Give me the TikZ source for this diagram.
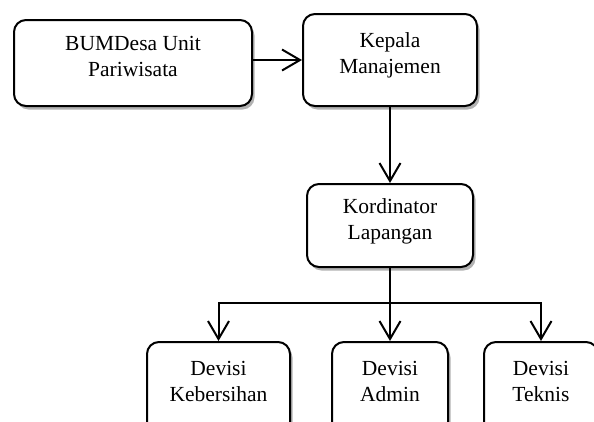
\documentclass[tikz,border=0pt]{standalone}
\usepackage{fontspec}
\setmainfont{Liberation Serif}
\usetikzlibrary{arrows.meta,shadows}

\begin{document}
\begin{tikzpicture}[x=1pt,y=-1pt,
    box/.style={draw,line width=2pt,rounded corners=12pt,fill=white,align=center,
      font=\fontsize{21.5}{26}\selectfont,text depth=13pt,
      drop shadow={shadow xshift=2.5pt,shadow yshift=-3.5pt,opacity=0.3,fill=black}},
    arr/.style={line width=2pt,-{Straight Barb[length=18pt,width=21pt,line width=2pt]}}]
      \clip (0,0) rectangle (594,421);
      \node[box,minimum width=238pt,minimum height=86pt] (bumdesa) at (133,63) {BUMDesa Unit\\Pariwisata};
      \node[box,minimum width=174pt,minimum height=92pt] (kepala) at (390,60) {Kepala\\Manajemen};
      \node[box,minimum width=166pt,minimum height=83pt] (kordinator) at (390,225.5) {Kordinator\\Lapangan};
      % bottom row runs past the lower edge
      \node[box,minimum width=143pt,minimum height=92pt] (kebersihan) at (218.5,388) {Devisi\\Kebersihan};
      \node[box,minimum width=116pt,minimum height=92pt] (admin) at (390,388) {Devisi\\Admin};
      \node[box,minimum width=114pt,minimum height=92pt] (teknis) at (541,388) {Devisi\\Teknis};
      \coordinate (bar) at (390,303);
      \draw[arr] (bumdesa.east |- kepala.west) -- (kepala.west);
      \draw[arr] (kepala.south) -- (kordinator.north);
      \draw[arr] (kordinator.south) -- (admin.north);
      \draw[arr] (bar) -| (kebersihan.north);
      \draw[arr] (bar) -| (teknis.north);
    \end{tikzpicture}
\end{document}
